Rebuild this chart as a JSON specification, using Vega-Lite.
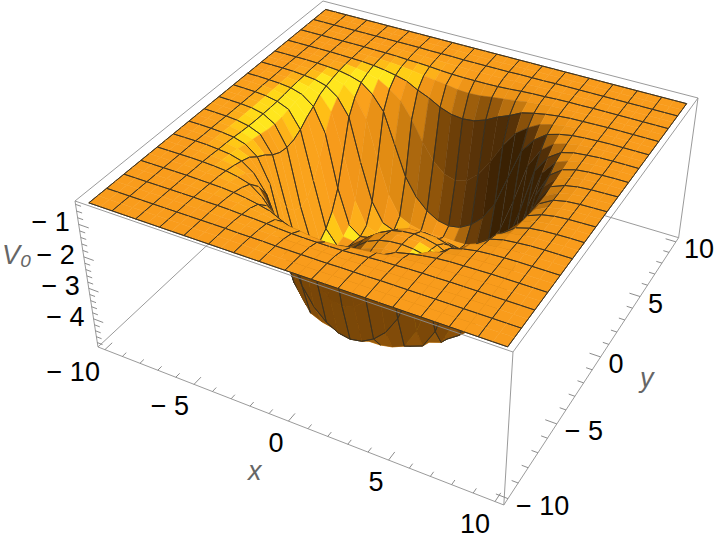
{
"$schema":"https://vega.github.io/schema/vega-lite/v6.json",
"autosize":{"type":"none"},"padding":0,"width":720,"height":544,
"background":"white","config":{"view":{"stroke":null}},
"datasets":{
"box":[
{"f":0,"x":-10.4,"y":10.4,"z":-0.3,"x2":-10.4,"y2":-10.4,"z2":-0.3},
{"f":0,"x":-10.4,"y":10.4,"z":-0.3,"x2":10.4,"y2":10.4,"z2":-0.3},
{"f":0,"x":-10.4,"y":10.4,"z":-4.95,"x2":-10.4,"y2":-10.4,"z2":-4.95},
{"f":0,"x":-10.4,"y":10.4,"z":-4.95,"x2":10.4,"y2":10.4,"z2":-4.95},
{"f":0,"x":10.4,"y":10.4,"z":-0.3,"x2":10.4,"y2":10.4,"z2":-4.95},
{"f":0,"x":-10.4,"y":-10.4,"z":-0.3,"x2":-10.4,"y2":-10.4,"z2":-4.95},
{"f":0,"x":10.4,"y":-10.4,"z":-0.3,"x2":10.4,"y2":-10.4,"z2":-4.95},
{"f":0,"x":-10.4,"y":-10.4,"z":-4.95,"x2":10.4,"y2":-10.4,"z2":-4.95},
{"f":0,"x":10.4,"y":-10.4,"z":-4.95,"x2":10.4,"y2":10.4,"z2":-4.95},
{"f":1,"x":-10.4,"y":-10.4,"z":-0.3,"x2":10.4,"y2":-10.4,"z2":-0.3},
{"f":1,"x":10.4,"y":-10.4,"z":-0.3,"x2":10.4,"y2":10.4,"z2":-0.3}
],
"ticks":[
{"a":"x","l":0.55,"v":[-10,-5,0,5,10]},
{"a":"x","l":0.3,"v":[-9,-8,-7,-6,-4,-3,-2,-1,1,2,3,4,6,7,8,9]},
{"a":"y","l":0.55,"v":[-10,-5,0,5,10]},
{"a":"y","l":0.3,"v":[-9,-8,-7,-6,-4,-3,-2,-1,1,2,3,4,6,7,8,9]},
{"a":"z","l":0.55,"v":[-1,-2,-3,-4]},
{"a":"z","l":0.3,"v":[-0.4,-0.6,-0.8,-1.2,-1.4,-1.6,-1.8,-2.2,-2.4,-2.6,-2.8,-3.2,-3.4,-3.6,-3.8,-4.2,-4.4,-4.6,-4.8]}
],
"labels":[
{"a":"x","x":-10,"y":-10.4,"z":-4.95,"txt":"− 10"},
{"a":"x","x":-5,"y":-10.4,"z":-4.95,"txt":"− 5"},
{"a":"x","x":0,"y":-10.4,"z":-4.95,"txt":"0"},
{"a":"x","x":5,"y":-10.4,"z":-4.95,"txt":"5"},
{"a":"x","x":10,"y":-10.4,"z":-4.95,"txt":"10"},
{"a":"y","x":10.4,"y":-10,"z":-4.95,"txt":"− 10"},
{"a":"y","x":10.4,"y":-5,"z":-4.95,"txt":"− 5"},
{"a":"y","x":10.4,"y":0,"z":-4.95,"txt":"0"},
{"a":"y","x":10.4,"y":5,"z":-4.95,"txt":"5"},
{"a":"y","x":10.4,"y":10,"z":-4.95,"txt":"10"},
{"a":"z","x":-10.4,"y":-10.4,"z":-1,"txt":"− 1"},
{"a":"z","x":-10.4,"y":-10.4,"z":-2,"txt":"− 2"},
{"a":"z","x":-10.4,"y":-10.4,"z":-3,"txt":"− 3"},
{"a":"z","x":-10.4,"y":-10.4,"z":-4,"txt":"− 4"},
{"a":"t","x":0.4,"y":-13.7,"z":-4.95,"txt":"x"},
{"a":"t","x":12.8,"y":-0.4,"z":-4.95,"txt":"y"},
{"a":"t","x":-14.5,"y":-10.4,"z":-2.8,"txt":"V₀"}
],
"grid":[
{"x":-10,"V":[-0.42,-0.42,-0.42,-0.42,-0.42,-0.42,-0.42,-0.42,-0.42,-0.42,-0.42,-0.42,-0.42,-0.42,-0.42,-0.42,-0.42,-0.42,-0.42,-0.42,-0.42,-0.42,-0.42,-0.42,-0.42,-0.42,-0.42,-0.42,-0.42,-0.42,-0.42,-0.42,-0.42]},
{"x":-9.375,"V":[-0.42,-0.42,-0.42,-0.42,-0.42,-0.42,-0.42,-0.42,-0.42,-0.42,-0.42,-0.42,-0.42,-0.42,-0.43,-0.43,-0.43,-0.43,-0.43,-0.42,-0.42,-0.42,-0.42,-0.42,-0.42,-0.42,-0.42,-0.42,-0.42,-0.42,-0.42,-0.42,-0.42]},
{"x":-8.75,"V":[-0.42,-0.42,-0.42,-0.42,-0.42,-0.42,-0.42,-0.42,-0.42,-0.42,-0.42,-0.43,-0.43,-0.43,-0.44,-0.44,-0.44,-0.44,-0.44,-0.43,-0.43,-0.43,-0.42,-0.42,-0.42,-0.42,-0.42,-0.42,-0.42,-0.42,-0.42,-0.42,-0.42]},
{"x":-8.125,"V":[-0.42,-0.42,-0.42,-0.42,-0.42,-0.42,-0.42,-0.42,-0.42,-0.43,-0.43,-0.44,-0.45,-0.46,-0.47,-0.47,-0.47,-0.47,-0.47,-0.46,-0.45,-0.44,-0.43,-0.43,-0.42,-0.42,-0.42,-0.42,-0.42,-0.42,-0.42,-0.42,-0.42]},
{"x":-7.5,"V":[-0.42,-0.42,-0.42,-0.42,-0.42,-0.42,-0.42,-0.43,-0.43,-0.44,-0.46,-0.47,-0.49,-0.52,-0.54,-0.55,-0.55,-0.55,-0.54,-0.52,-0.49,-0.47,-0.46,-0.44,-0.43,-0.43,-0.42,-0.42,-0.42,-0.42,-0.42,-0.42,-0.42]},
{"x":-6.875,"V":[-0.42,-0.42,-0.42,-0.42,-0.42,-0.42,-0.43,-0.44,-0.45,-0.47,-0.5,-0.54,-0.6,-0.65,-0.69,-0.75,-0.77,-0.75,-0.69,-0.65,-0.6,-0.54,-0.5,-0.47,-0.45,-0.44,-0.43,-0.42,-0.42,-0.42,-0.42,-0.42,-0.42]},
{"x":-6.25,"V":[-0.42,-0.42,-0.42,-0.42,-0.42,-0.43,-0.44,-0.45,-0.48,-0.53,-0.6,-0.69,-0.88,-1.03,-1.23,-1.36,-1.4,-1.36,-1.23,-1.03,-0.88,-0.69,-0.6,-0.53,-0.48,-0.45,-0.44,-0.43,-0.42,-0.42,-0.42,-0.42,-0.42]},
{"x":-5.625,"V":[-0.42,-0.42,-0.42,-0.42,-0.43,-0.44,-0.45,-0.49,-0.55,-0.65,-0.86,-1.14,-1.64,-2.28,-2.81,-3.14,-3.25,-3.14,-2.81,-2.28,-1.64,-1.14,-0.86,-0.65,-0.55,-0.49,-0.45,-0.44,-0.43,-0.42,-0.42,-0.42,-0.42]},
{"x":-5,"V":[-0.42,-0.42,-0.42,-0.42,-0.43,-0.45,-0.48,-0.55,-0.66,-0.94,-1.4,-2.38,-3.36,-3.95,-4.31,-4.53,-4.6,-4.53,-4.31,-3.95,-3.36,-2.38,-1.4,-0.94,-0.66,-0.55,-0.48,-0.45,-0.43,-0.42,-0.42,-0.42,-0.42]},
{"x":-4.375,"V":[-0.42,-0.42,-0.42,-0.43,-0.44,-0.47,-0.53,-0.65,-0.94,-1.56,-2.81,-3.89,-4.53,-4.7,-4.78,-4.79,-4.78,-4.79,-4.78,-4.7,-4.53,-3.89,-2.81,-1.56,-0.94,-0.65,-0.53,-0.47,-0.44,-0.43,-0.42,-0.42,-0.42]},
{"x":-3.75,"V":[-0.42,-0.42,-0.42,-0.43,-0.46,-0.5,-0.6,-0.86,-1.4,-2.81,-4.02,-4.65,-4.8,-4.75,-4.7,-4.63,-4.61,-4.63,-4.7,-4.75,-4.8,-4.65,-4.02,-2.81,-1.4,-0.86,-0.6,-0.5,-0.46,-0.43,-0.42,-0.42,-0.42]},
{"x":-3.125,"V":[-0.42,-0.42,-0.43,-0.44,-0.47,-0.54,-0.69,-1.14,-2.38,-3.89,-4.65,-4.79,-4.72,-4.56,-4.42,-4.31,-4.28,-4.31,-4.42,-4.56,-4.72,-4.79,-4.65,-3.89,-2.38,-1.14,-0.69,-0.54,-0.47,-0.44,-0.43,-0.42,-0.42]},
{"x":-2.5,"V":[-0.42,-0.42,-0.43,-0.45,-0.49,-0.6,-0.88,-1.64,-3.36,-4.53,-4.8,-4.72,-4.52,-4.28,-4.1,-3.99,-3.95,-3.99,-4.1,-4.28,-4.52,-4.72,-4.8,-4.53,-3.36,-1.64,-0.88,-0.6,-0.49,-0.45,-0.43,-0.42,-0.42]},
{"x":-1.875,"V":[-0.42,-0.42,-0.43,-0.46,-0.52,-0.65,-1.03,-2.28,-3.95,-4.7,-4.75,-4.56,-4.28,-4.03,-3.83,-3.69,-3.67,-3.69,-3.83,-4.03,-4.28,-4.56,-4.75,-4.7,-3.95,-2.28,-1.03,-0.65,-0.52,-0.46,-0.43,-0.42,-0.42]},
{"x":-1.25,"V":[-0.42,-0.43,-0.44,-0.47,-0.54,-0.69,-1.23,-2.81,-4.31,-4.78,-4.7,-4.42,-4.1,-3.83,-3.64,-3.55,-3.51,-3.55,-3.64,-3.83,-4.1,-4.42,-4.7,-4.78,-4.31,-2.81,-1.23,-0.69,-0.54,-0.47,-0.44,-0.43,-0.42]},
{"x":-0.625,"V":[-0.42,-0.43,-0.44,-0.47,-0.55,-0.75,-1.36,-3.14,-4.53,-4.79,-4.63,-4.31,-3.99,-3.69,-3.55,-3.44,-3.43,-3.44,-3.55,-3.69,-3.99,-4.31,-4.63,-4.79,-4.53,-3.14,-1.36,-0.75,-0.55,-0.47,-0.44,-0.43,-0.42]},
{"x":0,"V":[-0.42,-0.43,-0.44,-0.47,-0.55,-0.77,-1.4,-3.25,-4.6,-4.78,-4.61,-4.28,-3.95,-3.67,-3.51,-3.43,-3.4,-3.43,-3.51,-3.67,-3.95,-4.28,-4.61,-4.78,-4.6,-3.25,-1.4,-0.77,-0.55,-0.47,-0.44,-0.43,-0.42]},
{"x":0.625,"V":[-0.42,-0.43,-0.44,-0.47,-0.55,-0.75,-1.36,-3.14,-4.53,-4.79,-4.63,-4.31,-3.99,-3.69,-3.55,-3.44,-3.43,-3.44,-3.55,-3.69,-3.99,-4.31,-4.63,-4.79,-4.53,-3.14,-1.36,-0.75,-0.55,-0.47,-0.44,-0.43,-0.42]},
{"x":1.25,"V":[-0.42,-0.43,-0.44,-0.47,-0.54,-0.69,-1.23,-2.81,-4.31,-4.78,-4.7,-4.42,-4.1,-3.83,-3.64,-3.55,-3.51,-3.55,-3.64,-3.83,-4.1,-4.42,-4.7,-4.78,-4.31,-2.81,-1.23,-0.69,-0.54,-0.47,-0.44,-0.43,-0.42]},
{"x":1.875,"V":[-0.42,-0.42,-0.43,-0.46,-0.52,-0.65,-1.03,-2.28,-3.95,-4.7,-4.75,-4.56,-4.28,-4.03,-3.83,-3.69,-3.67,-3.69,-3.83,-4.03,-4.28,-4.56,-4.75,-4.7,-3.95,-2.28,-1.03,-0.65,-0.52,-0.46,-0.43,-0.42,-0.42]},
{"x":2.5,"V":[-0.42,-0.42,-0.43,-0.45,-0.49,-0.6,-0.88,-1.64,-3.36,-4.53,-4.8,-4.72,-4.52,-4.28,-4.1,-3.99,-3.95,-3.99,-4.1,-4.28,-4.52,-4.72,-4.8,-4.53,-3.36,-1.64,-0.88,-0.6,-0.49,-0.45,-0.43,-0.42,-0.42]},
{"x":3.125,"V":[-0.42,-0.42,-0.43,-0.44,-0.47,-0.54,-0.69,-1.14,-2.38,-3.89,-4.65,-4.79,-4.72,-4.56,-4.42,-4.31,-4.28,-4.31,-4.42,-4.56,-4.72,-4.79,-4.65,-3.89,-2.38,-1.14,-0.69,-0.54,-0.47,-0.44,-0.43,-0.42,-0.42]},
{"x":3.75,"V":[-0.42,-0.42,-0.42,-0.43,-0.46,-0.5,-0.6,-0.86,-1.4,-2.81,-4.02,-4.65,-4.8,-4.75,-4.7,-4.63,-4.61,-4.63,-4.7,-4.75,-4.8,-4.65,-4.02,-2.81,-1.4,-0.86,-0.6,-0.5,-0.46,-0.43,-0.42,-0.42,-0.42]},
{"x":4.375,"V":[-0.42,-0.42,-0.42,-0.43,-0.44,-0.47,-0.53,-0.65,-0.94,-1.56,-2.81,-3.89,-4.53,-4.7,-4.78,-4.79,-4.78,-4.79,-4.78,-4.7,-4.53,-3.89,-2.81,-1.56,-0.94,-0.65,-0.53,-0.47,-0.44,-0.43,-0.42,-0.42,-0.42]},
{"x":5,"V":[-0.42,-0.42,-0.42,-0.42,-0.43,-0.45,-0.48,-0.55,-0.66,-0.94,-1.4,-2.38,-3.36,-3.95,-4.31,-4.53,-4.6,-4.53,-4.31,-3.95,-3.36,-2.38,-1.4,-0.94,-0.66,-0.55,-0.48,-0.45,-0.43,-0.42,-0.42,-0.42,-0.42]},
{"x":5.625,"V":[-0.42,-0.42,-0.42,-0.42,-0.43,-0.44,-0.45,-0.49,-0.55,-0.65,-0.86,-1.14,-1.64,-2.28,-2.81,-3.14,-3.25,-3.14,-2.81,-2.28,-1.64,-1.14,-0.86,-0.65,-0.55,-0.49,-0.45,-0.44,-0.43,-0.42,-0.42,-0.42,-0.42]},
{"x":6.25,"V":[-0.42,-0.42,-0.42,-0.42,-0.42,-0.43,-0.44,-0.45,-0.48,-0.53,-0.6,-0.69,-0.88,-1.03,-1.23,-1.36,-1.4,-1.36,-1.23,-1.03,-0.88,-0.69,-0.6,-0.53,-0.48,-0.45,-0.44,-0.43,-0.42,-0.42,-0.42,-0.42,-0.42]},
{"x":6.875,"V":[-0.42,-0.42,-0.42,-0.42,-0.42,-0.42,-0.43,-0.44,-0.45,-0.47,-0.5,-0.54,-0.6,-0.65,-0.69,-0.75,-0.77,-0.75,-0.69,-0.65,-0.6,-0.54,-0.5,-0.47,-0.45,-0.44,-0.43,-0.42,-0.42,-0.42,-0.42,-0.42,-0.42]},
{"x":7.5,"V":[-0.42,-0.42,-0.42,-0.42,-0.42,-0.42,-0.42,-0.43,-0.43,-0.44,-0.46,-0.47,-0.49,-0.52,-0.54,-0.55,-0.55,-0.55,-0.54,-0.52,-0.49,-0.47,-0.46,-0.44,-0.43,-0.43,-0.42,-0.42,-0.42,-0.42,-0.42,-0.42,-0.42]},
{"x":8.125,"V":[-0.42,-0.42,-0.42,-0.42,-0.42,-0.42,-0.42,-0.42,-0.42,-0.43,-0.43,-0.44,-0.45,-0.46,-0.47,-0.47,-0.47,-0.47,-0.47,-0.46,-0.45,-0.44,-0.43,-0.43,-0.42,-0.42,-0.42,-0.42,-0.42,-0.42,-0.42,-0.42,-0.42]},
{"x":8.75,"V":[-0.42,-0.42,-0.42,-0.42,-0.42,-0.42,-0.42,-0.42,-0.42,-0.42,-0.42,-0.43,-0.43,-0.43,-0.44,-0.44,-0.44,-0.44,-0.44,-0.43,-0.43,-0.43,-0.42,-0.42,-0.42,-0.42,-0.42,-0.42,-0.42,-0.42,-0.42,-0.42,-0.42]},
{"x":9.375,"V":[-0.42,-0.42,-0.42,-0.42,-0.42,-0.42,-0.42,-0.42,-0.42,-0.42,-0.42,-0.42,-0.42,-0.42,-0.43,-0.43,-0.43,-0.43,-0.43,-0.42,-0.42,-0.42,-0.42,-0.42,-0.42,-0.42,-0.42,-0.42,-0.42,-0.42,-0.42,-0.42,-0.42]},
{"x":10,"V":[-0.42,-0.42,-0.42,-0.42,-0.42,-0.42,-0.42,-0.42,-0.42,-0.42,-0.42,-0.42,-0.42,-0.42,-0.42,-0.42,-0.42,-0.42,-0.42,-0.42,-0.42,-0.42,-0.42,-0.42,-0.42,-0.42,-0.42,-0.42,-0.42,-0.42,-0.42,-0.42,-0.42]}
]
},
"encoding":{
"x":{"field":"u","type":"quantitative","scale":{"domain":[0,720],"nice":false,"zero":false},"axis":null},
"y":{"field":"v","type":"quantitative","scale":{"domain":[544,0],"nice":false,"zero":false},"axis":null}
},
"layer":[
{"data":{"name":"box"},"transform":[{"filter":"datum.f==0"},
{"calculate":"(datum.x+10.4)/20.8","as":"s"},{"calculate":"(datum.y+10.4)/20.8","as":"t"},{"calculate":"(-0.3-datum.z)/4.65","as":"q"},
{"calculate":"(datum.x2+10.4)/20.8","as":"s2"},{"calculate":"(datum.y2+10.4)/20.8","as":"t2"},{"calculate":"(-0.3-datum.z2)/4.65","as":"q2"},
{"calculate":"(373.92*datum.s+322.17*datum.t+75+30.5*datum.q)/(-0.12491*datum.s+0.22962*datum.t+1+0.0765*datum.q)","as":"u"},
{"calculate":"(107.03*datum.s-199.77*datum.t+201+172.5*datum.q)/(-0.12491*datum.s+0.22962*datum.t+1+0.0765*datum.q)","as":"v"},
{"calculate":"(373.92*datum.s2+322.17*datum.t2+75+30.5*datum.q2)/(-0.12491*datum.s2+0.22962*datum.t2+1+0.0765*datum.q2)","as":"u2"},
{"calculate":"(107.03*datum.s2-199.77*datum.t2+201+172.5*datum.q2)/(-0.12491*datum.s2+0.22962*datum.t2+1+0.0765*datum.q2)","as":"v2"}],
"mark":{"type":"rule","stroke":"#8f8f8f","strokeWidth":0.9},
"encoding":{"x2":{"field":"u2"},"y2":{"field":"v2"}}},
{"data":{"name":"ticks"},"transform":[{"flatten":["v"],"as":["w0"]},
{"calculate":"datum.a=='x'?datum.w0:datum.a=='y'?10.4:-10.4","as":"X"},
{"calculate":"datum.a=='x'?-10.4:datum.a=='y'?datum.w0:-10.4","as":"Y"},
{"calculate":"datum.a=='z'?datum.w0:-4.95","as":"Z"},
{"calculate":"datum.a=='x'?datum.X:datum.a=='y'?10.4-datum.l:-10.4+datum.l","as":"X2"},
{"calculate":"datum.a=='x'?-10.4+datum.l:datum.Y","as":"Y2"},
{"calculate":"(datum.X+10.4)/20.8","as":"s"},{"calculate":"(datum.Y+10.4)/20.8","as":"t"},{"calculate":"(-0.3-datum.Z)/4.65","as":"q"},
{"calculate":"(datum.X2+10.4)/20.8","as":"s2"},{"calculate":"(datum.Y2+10.4)/20.8","as":"t2"},
{"calculate":"(373.92*datum.s+322.17*datum.t+75+30.5*datum.q)/(-0.12491*datum.s+0.22962*datum.t+1+0.0765*datum.q)","as":"u"},
{"calculate":"(107.03*datum.s-199.77*datum.t+201+172.5*datum.q)/(-0.12491*datum.s+0.22962*datum.t+1+0.0765*datum.q)","as":"v"},
{"calculate":"(373.92*datum.s2+322.17*datum.t2+75+30.5*datum.q)/(-0.12491*datum.s2+0.22962*datum.t2+1+0.0765*datum.q)","as":"u2"},
{"calculate":"(107.03*datum.s2-199.77*datum.t2+201+172.5*datum.q)/(-0.12491*datum.s2+0.22962*datum.t2+1+0.0765*datum.q)","as":"v2"}],
"mark":{"type":"rule","stroke":"#808080","strokeWidth":0.9},
"encoding":{"x2":{"field":"u2"},"y2":{"field":"v2"}}},
{"data":{"name":"grid"},"transform":[
{"calculate":"[10,9.375,8.75,8.125,7.5,6.875,6.25,5.625,5,4.375,3.75,3.125,2.5,1.875,1.25,0.625,0,-0.625,-1.25,-1.875,-2.5,-3.125,-3.75,-4.375,-5,-5.625,-6.25,-6.875,-7.5,-8.125,-8.75,-9.375,-10]","as":"y"},
{"flatten":["y","V"]},
{"window":[{"op":"lead","field":"V","as":"VE"}],"groupby":["y"],"sort":[{"field":"x","order":"ascending"}]},
{"window":[{"op":"lead","field":"V","as":"VN"},{"op":"lead","field":"VE","as":"VNE"}],"groupby":["x"],"sort":[{"field":"y","order":"ascending"}]},
{"filter":"isValid(datum.VNE)&&isValid(datum.VN)&&isValid(datum.VE)"},
{"calculate":"1.79*((datum.VE+datum.VNE)-(datum.V+datum.VN))/1.25","as":"gx"},
{"calculate":"1.79*((datum.VN+datum.VNE)-(datum.V+datum.VE))/1.25","as":"gy"},
{"calculate":"sqrt(1+datum.gx*datum.gx+datum.gy*datum.gy)","as":"nn"},
{"calculate":"(-1.3*datum.gx+2.4*datum.gy+2)<0?0.22/datum.nn:min((-0.7*datum.gx-0.18*datum.gy+0.7)/datum.nn,0.78)+2*max(0,(-0.51*datum.gx+0.25*datum.gy+0.82)/datum.nn-0.82)","as":"shade"},
{"calculate":"datum.x+0.625","as":"xe"},
{"calculate":"datum.y+0.625","as":"yn"},
{"calculate":"[0,0,0,0,1,1,2,2,3,3,4,4]","as":"part"},
{"calculate":"[0,1,2,3,0,1,0,1,0,1,0,1]","as":"k"},
{"calculate":"[datum.x,datum.xe,datum.xe,datum.x,datum.x,datum.x,datum.x,datum.xe,datum.xe,datum.xe,datum.x,datum.xe]","as":"X"},
{"calculate":"[datum.y,datum.y,datum.yn,datum.yn,datum.y,datum.yn,datum.yn,datum.yn,datum.y,datum.yn,datum.y,datum.y]","as":"Y"},
{"calculate":"[datum.V,datum.VE,datum.VNE,datum.VN,datum.V,datum.VN,datum.VN,datum.VNE,datum.VE,datum.VNE,datum.V,datum.VE]","as":"Z"},
{"flatten":["part","k","X","Y","Z"]},
{"filter":"datum.part==0||(datum.part==1&&abs(datum.x/1.25-round(datum.x/1.25))<0.01)||(datum.part==2&&abs(datum.yn/1.25-round(datum.yn/1.25))<0.01)||(datum.part==3&&datum.xe==10)||(datum.part==4&&datum.y==-10)"},
{"calculate":"(datum.x*1000+datum.y)*10+datum.part","as":"cid"},
{"calculate":"datum.part==0?datum.shade:-9","as":"sk"},
{"calculate":"datum.part==0?1:0","as":"fo"},
{"calculate":"datum.part==0?0.5:0.85","as":"sw"},
{"calculate":"(datum.X+10.4)/20.8","as":"s"},{"calculate":"(datum.Y+10.4)/20.8","as":"t"},{"calculate":"(-0.3-datum.Z)/4.65","as":"q"},
{"calculate":"(373.92*datum.s+322.17*datum.t+75+30.5*datum.q)/(-0.12491*datum.s+0.22962*datum.t+1+0.0765*datum.q)","as":"u"},
{"calculate":"(107.03*datum.s-199.77*datum.t+201+172.5*datum.q)/(-0.12491*datum.s+0.22962*datum.t+1+0.0765*datum.q)","as":"v"}
],
"mark":{"type":"line","interpolate":"linear-closed","strokeJoin":"round"},
"encoding":{"detail":{"field":"cid","type":"nominal"},"order":{"field":"k","type":"quantitative"},
"fillOpacity":{"field":"fo","type":"quantitative","scale":null},
"strokeWidth":{"field":"sw","type":"quantitative","scale":null},
"stroke":{"field":"sk","type":"quantitative","legend":null,"scale":{"domain":[-9,-0.31,-0.3,0.05,0.35,0.7,0.82,1.0],"range":["#3a3020","#3a3020","#3a2103","#7a4708","#DF8A12","#F99C1C","#FBA71C","#FFE61E"],"clamp":true}},
"fill":{"field":"shade","type":"quantitative","legend":null,"scale":{"domain":[-0.3,0.05,0.35,0.7,0.82,1.0],"range":["#3a2103","#7a4708","#DF8A12","#F99C1C","#FBA71C","#FFE61E"],"clamp":true}}}},
{"data":{"name":"box"},"transform":[{"filter":"datum.f==1"},
{"calculate":"(datum.x+10.4)/20.8","as":"s"},{"calculate":"(datum.y+10.4)/20.8","as":"t"},{"calculate":"(-0.3-datum.z)/4.65","as":"q"},
{"calculate":"(datum.x2+10.4)/20.8","as":"s2"},{"calculate":"(datum.y2+10.4)/20.8","as":"t2"},{"calculate":"(-0.3-datum.z2)/4.65","as":"q2"},
{"calculate":"(373.92*datum.s+322.17*datum.t+75+30.5*datum.q)/(-0.12491*datum.s+0.22962*datum.t+1+0.0765*datum.q)","as":"u"},
{"calculate":"(107.03*datum.s-199.77*datum.t+201+172.5*datum.q)/(-0.12491*datum.s+0.22962*datum.t+1+0.0765*datum.q)","as":"v"},
{"calculate":"(373.92*datum.s2+322.17*datum.t2+75+30.5*datum.q2)/(-0.12491*datum.s2+0.22962*datum.t2+1+0.0765*datum.q2)","as":"u2"},
{"calculate":"(107.03*datum.s2-199.77*datum.t2+201+172.5*datum.q2)/(-0.12491*datum.s2+0.22962*datum.t2+1+0.0765*datum.q2)","as":"v2"}],
"mark":{"type":"rule","stroke":"#8f8f8f","strokeWidth":0.9},
"encoding":{"x2":{"field":"u2"},"y2":{"field":"v2"}}},
{"data":{"name":"labels"},"transform":[{"filter":"datum.a=='x'"},
{"calculate":"(datum.x+10.4)/20.8","as":"s"},{"calculate":"(datum.y+10.4)/20.8","as":"t"},{"calculate":"(-0.3-datum.z)/4.65","as":"q"},
{"calculate":"(373.92*datum.s+322.17*datum.t+75+30.5*datum.q)/(-0.12491*datum.s+0.22962*datum.t+1+0.0765*datum.q)","as":"u"},
{"calculate":"(107.03*datum.s-199.77*datum.t+201+172.5*datum.q)/(-0.12491*datum.s+0.22962*datum.t+1+0.0765*datum.q)","as":"v"}],
"mark":{"type":"text","font":"Liberation Sans","fontSize":27,"align":"right","baseline":"middle","dx":-5,"dy":23,"color":"black"},"encoding":{"text":{"field":"txt"}}},
{"data":{"name":"labels"},"transform":[{"filter":"datum.a=='y'"},
{"calculate":"(datum.x+10.4)/20.8","as":"s"},{"calculate":"(datum.y+10.4)/20.8","as":"t"},{"calculate":"(-0.3-datum.z)/4.65","as":"q"},
{"calculate":"(373.92*datum.s+322.17*datum.t+75+30.5*datum.q)/(-0.12491*datum.s+0.22962*datum.t+1+0.0765*datum.q)","as":"u"},
{"calculate":"(107.03*datum.s-199.77*datum.t+201+172.5*datum.q)/(-0.12491*datum.s+0.22962*datum.t+1+0.0765*datum.q)","as":"v"}],
"mark":{"type":"text","font":"Liberation Sans","fontSize":27,"align":"left","baseline":"middle","dx":8,"dy":8,"color":"black"},"encoding":{"text":{"field":"txt"}}},
{"data":{"name":"labels"},"transform":[{"filter":"datum.a=='z'"},
{"calculate":"(datum.x+10.4)/20.8","as":"s"},{"calculate":"(datum.y+10.4)/20.8","as":"t"},{"calculate":"(-0.3-datum.z)/4.65","as":"q"},
{"calculate":"(373.92*datum.s+322.17*datum.t+75+30.5*datum.q)/(-0.12491*datum.s+0.22962*datum.t+1+0.0765*datum.q)","as":"u"},
{"calculate":"(107.03*datum.s-199.77*datum.t+201+172.5*datum.q)/(-0.12491*datum.s+0.22962*datum.t+1+0.0765*datum.q)","as":"v"}],
"mark":{"type":"text","font":"Liberation Sans","fontSize":27,"align":"right","baseline":"middle","dx":-9,"dy":-1,"color":"black"},"encoding":{"text":{"field":"txt"}}},
{"data":{"name":"labels"},"transform":[{"filter":"datum.a=='t'"},
{"calculate":"(datum.x+10.4)/20.8","as":"s"},{"calculate":"(datum.y+10.4)/20.8","as":"t"},{"calculate":"(-0.3-datum.z)/4.65","as":"q"},
{"calculate":"(373.92*datum.s+322.17*datum.t+75+30.5*datum.q)/(-0.12491*datum.s+0.22962*datum.t+1+0.0765*datum.q)","as":"u"},
{"calculate":"(107.03*datum.s-199.77*datum.t+201+172.5*datum.q)/(-0.12491*datum.s+0.22962*datum.t+1+0.0765*datum.q)","as":"v"}],
"mark":{"type":"text","font":"Liberation Sans","fontSize":27,"fontStyle":"italic","align":"center","baseline":"middle","color":"#666666"},"encoding":{"text":{"field":"txt"}}}
]
}
